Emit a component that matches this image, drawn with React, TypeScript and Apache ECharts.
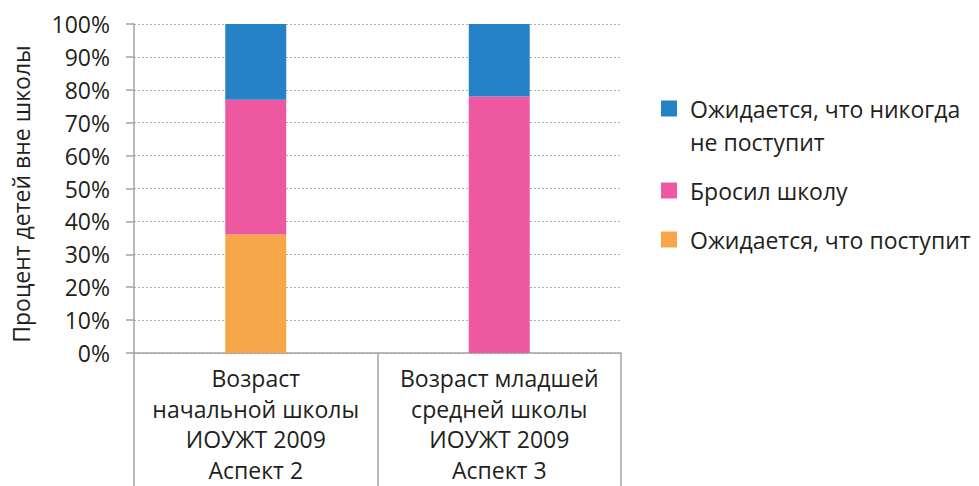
import React, { useEffect, useRef } from "react";
import * as echarts from "echarts";

const categories = [
  "Возраст\nначальной школы\nИОУЖТ 2009\nАспект 2",
  "Возраст младшей\nсредней школы\nИОУЖТ 2009\nАспект 3",
];
const willEnroll = [36, 0];
const droppedOut = [41, 78];
const neverEnroll = [23, 22];

const nameWill = "Ожидается, что поступит";
const nameDropped = "Бросил школу";
const nameNever = "Ожидается, что никогда не поступит";

const yTitle = "Процент детей вне школы";

const FONT = "'Open Sans', 'Noto Sans', sans-serif";
const TEXT = "#231f20";
const AXIS = "#a3a3a3";
const FS = 23;
const LH = 33;

// square placed on the first text line; the lone move-to points only fix the icon box size
const topSquareIcon = "path://M0,0 M16,66 M0,8.5 L16,8.5 L16,24.5 L0,24.5 Z";

export default function App() {
  const ref = useRef<HTMLDivElement>(null);
  useEffect(() => {
    if (!ref.current) return;
    const chart = echarts.init(ref.current, null, { renderer: "svg" });
    const legendText = { fontFamily: FONT, fontSize: FS, color: TEXT, lineHeight: LH, padding: [0, 0, 0, 8] };
    chart.setOption({
      animation: false,
      textStyle: { fontFamily: FONT },
      grid: {
        left: 134,
        right: 358,
        top: 24,
        height: 329,
        containLabel: false,
        outerBoundsMode: "none",
      },
      legend: [
        {
          orient: "vertical",
          left: 661,
          top: 92,
          padding: 0,
          itemWidth: 16,
          itemHeight: 66,
          icon: topSquareIcon,
          selectedMode: false,
          formatter: () => "Ожидается, что никогда\nне поступит",
          textStyle: legendText,
          data: [nameNever],
        },
        {
          orient: "vertical",
          left: 661,
          top: 174,
          padding: 0,
          itemGap: 16,
          itemWidth: 16,
          itemHeight: 16,
          icon: "rect",
          selectedMode: false,
          textStyle: legendText,
          data: [nameDropped, nameWill],
        },
      ],
      xAxis: {
        type: "category",
        data: categories,
        axisLine: { show: true, lineStyle: { color: AXIS, width: 1.5 } },
        axisTick: { show: true, length: 134, lineStyle: { color: AXIS, width: 1.5 } },
        axisLabel: { fontFamily: FONT, fontSize: FS, lineHeight: 30.5, color: TEXT, margin: 10, interval: 0 },
        splitLine: { show: false },
      },
      yAxis: {
        type: "value",
        min: 0,
        max: 100,
        interval: 10,
        name: yTitle,
        nameLocation: "middle",
        nameGap: 102,
        nameTextStyle: { fontFamily: FONT, fontSize: FS, color: TEXT, padding: [0, 11, 0, 0] },
        axisLine: { show: true, lineStyle: { color: AXIS, width: 1.5 } },
        axisTick: { show: true, length: 8, lineStyle: { color: AXIS, width: 1.5 } },
        axisLabel: { formatter: "{value}%", fontFamily: FONT, fontSize: FS, color: TEXT, margin: 24 },
        splitLine: { show: true, lineStyle: { color: "#b0b0b0", type: [2, 2], width: 1 } },
      },
      series: [
        { name: nameWill, type: "bar", stack: "total", barWidth: 61, itemStyle: { color: "#f8a64a" }, data: willEnroll },
        { name: nameDropped, type: "bar", stack: "total", barWidth: 61, itemStyle: { color: "#ee58a0" }, data: droppedOut },
        { name: nameNever, type: "bar", stack: "total", barWidth: 61, itemStyle: { color: "#2682c7" }, data: neverEnroll },
      ],
    });
    return () => chart.dispose();
  }, []);
  return (
    <div ref={ref} style={{ position: "fixed", left: 0, top: 0, width: 979, height: 486, background: "#fff" }} />
  );
}
